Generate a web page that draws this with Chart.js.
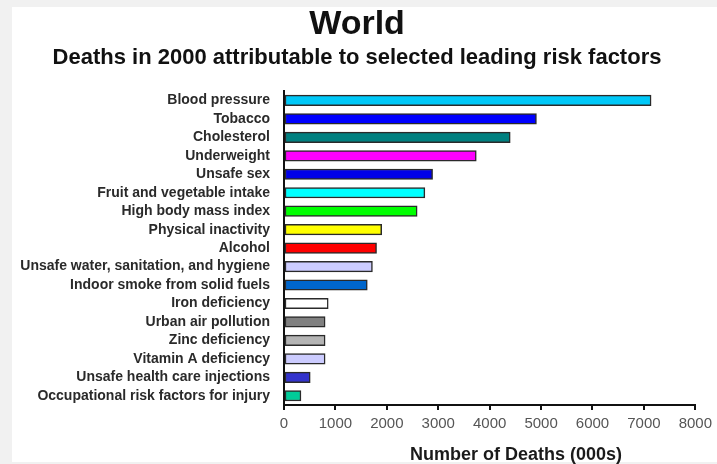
<!DOCTYPE html>
<html>
<head>
<meta charset="utf-8">
<title>World – Deaths in 2000 attributable to selected leading risk factors</title>
<script src="https://cdn.jsdelivr.net/npm/chart.js@4/dist/chart.umd.min.js"></script>
<style>
  html, body { margin: 0; padding: 0; background: #ffffff; }
  canvas { display: block; }
</style>
</head>
<body>
<canvas id="chart" width="717" height="464"></canvas>
<script>
// Risk factors, largest first
const riskFactors = [
  'Blood pressure',
  'Tobacco',
  'Cholesterol',
  'Underweight',
  'Unsafe sex',
  'Fruit and vegetable intake',
  'High body mass index',
  'Physical inactivity',
  'Alcohol',
  'Unsafe water, sanitation, and hygiene',
  'Indoor smoke from solid fuels',
  'Iron deficiency',
  'Urban air pollution',
  'Zinc deficiency',
  'Vitamin A deficiency',
  'Unsafe health care injections',
  'Occupational risk factors for injury'
];

// Attributable deaths, thousands
const deaths = [7140, 4910, 4400, 3740, 2890, 2740, 2590, 1900, 1800, 1720, 1620, 860, 800, 800, 800, 510, 330];

// Fill colour per risk factor
const barColors = [
  '#00c8f8', '#0000ff', '#008080', '#ff00ff', '#0000e8', '#00ffff',
  '#00ff00', '#ffff00', '#ff0000', '#ccccff', '#0066cc', '#ffffff',
  '#808080', '#b4b4b4', '#ccccff', '#3333cc', '#00cc99'
];

// Axis ticks
const xTicks = [0, 1000, 2000, 3000, 4000, 5000, 6000, 7000, 8000];

const titleText = 'World';
const subtitleText = 'Deaths in 2000 attributable to selected leading risk factors';
const xAxisTitle = 'Number of Deaths (000s)';

const FONT = '"Liberation Sans", Arial, Helvetica, sans-serif';

// Page frame: light grey margin on the left and top edges
const framePlugin = {
  id: 'frame',
  beforeDraw(chart) {
    const ctx = chart.ctx;
    ctx.save();
    ctx.fillStyle = '#ffffff';
    ctx.fillRect(0, 0, chart.width, chart.height);
    ctx.fillStyle = '#f1f1f1';
    ctx.fillRect(0, 0, chart.width, 7);
    ctx.fillRect(0, 0, 12, chart.height);
    ctx.fillRect(0, chart.height - 2, chart.width, 2);
    ctx.restore();
  }
};

// X axis title, set a little right of the axis centre
const axisTitlePlugin = {
  id: 'axisTitle',
  afterDraw(chart) {
    const x = chart.scales.x;
    const ctx = chart.ctx;
    ctx.save();
    ctx.font = 'bold 18px ' + FONT;
    ctx.fillStyle = '#1a1a1a';
    ctx.textAlign = 'center';
    ctx.textBaseline = 'middle';
    ctx.fillText(xAxisTitle, x.left + (x.right - x.left) * 0.564, x.top + 50);
    ctx.restore();
  }
};

new Chart(document.getElementById('chart'), {
  type: 'bar',
  data: {
    labels: riskFactors,
    datasets: [{
      data: deaths,
      backgroundColor: barColors,
      borderColor: '#2a2a2a',
      borderWidth: 1.5,
      borderSkipped: false,
      barThickness: 10.5
    }]
  },
  plugins: [framePlugin, axisTitlePlugin],
  options: {
    indexAxis: 'y',
    responsive: false,
    animation: false,
    devicePixelRatio: 1,
    layout: { padding: { left: 0, right: 3, top: 0, bottom: 0 } },
    plugins: {
      legend: { display: false },
      tooltip: { enabled: false },
      title: {
        display: true,
        text: titleText,
        color: '#111111',
        font: { family: FONT, size: 34, weight: 'bold' },
        padding: { top: 4, bottom: 0 }
      },
      subtitle: {
        display: true,
        text: subtitleText,
        color: '#111111',
        font: { family: FONT, size: 22, weight: 'bold' },
        padding: { top: 0, bottom: 20 }
      }
    },
    scales: {
      x: {
        type: 'linear',
        min: 0,
        max: 8000,
        afterBuildTicks(scale) {
          scale.ticks = xTicks.map(v => ({ value: v }));
        },
        afterFit(scale) { scale.height = 59; },
        grid: {
          display: true,
          drawOnChartArea: false,
          drawTicks: true,
          tickLength: 5,
          color: '#111111',
          lineWidth: 2
        },
        border: { display: true, color: '#111111', width: 2 },
        ticks: {
          color: '#555555',
          padding: 5,
          maxRotation: 0,
          font: { family: FONT, size: 15 },
          callback: v => String(v)
        }
      },
      y: {
        type: 'category',
        afterFit(scale) { scale.width = 284; },
        grid: { display: false },
        border: { display: true, color: '#111111', width: 2 },
        ticks: {
          color: '#2a2a2a',
          padding: 6,
          autoSkip: false,
          font: { family: FONT, size: 14, weight: 'bold' }
        }
      }
    }
  }
});
</script>
</body>
</html>
